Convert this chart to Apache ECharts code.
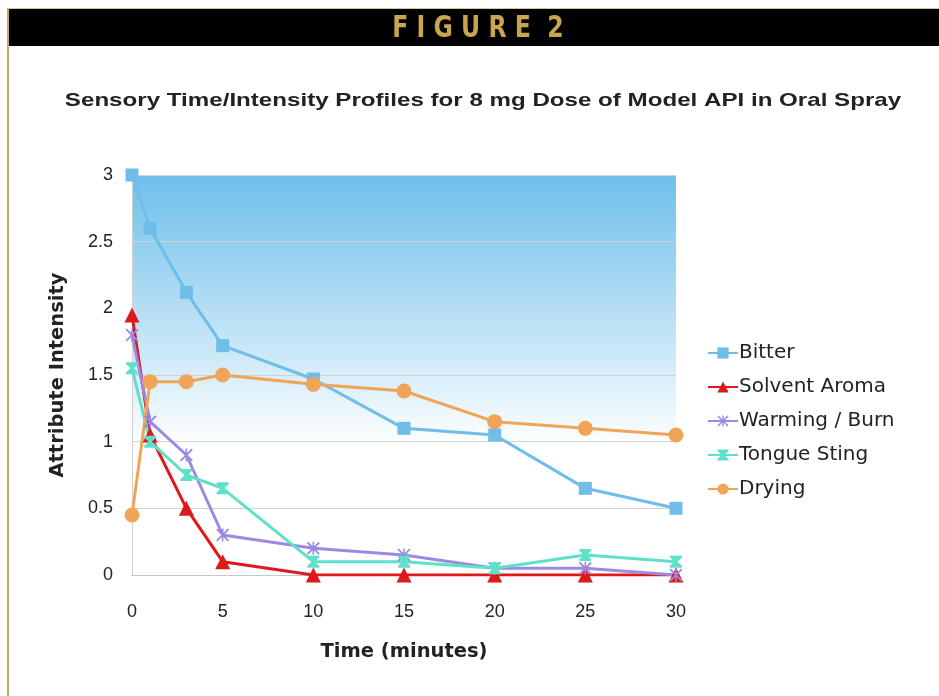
<!DOCTYPE html>
<html>
<head>
<meta charset="utf-8">
<title>Sensory Time/Intensity Profiles</title>
<script src="https://cdn.jsdelivr.net/npm/echarts@6/dist/echarts.min.js"></script>
<style>
  html, body { margin: 0; padding: 0; background: #ffffff; }
  #chart { width: 939px; height: 696px; }
</style>
</head>
<body>
<div id="chart"></div>
<script>
// Sampling times (minutes)
const times = [0, 1, 3, 5, 10, 15, 20, 25, 30];

// Attribute intensity per sensory attribute
const bitter        = [3.0, 2.6, 2.12, 1.72, 1.47, 1.1, 1.05, 0.65, 0.5];
const solventAroma  = [1.95, 1.05, 0.5, 0.1, 0, 0, 0, 0, 0];
const warmingBurn   = [1.8, 1.15, 0.9, 0.3, 0.2, 0.15, 0.05, 0.05, 0];
const tongueSting   = [1.55, 1.0, 0.75, 0.65, 0.1, 0.1, 0.05, 0.15, 0.1];
const drying        = [0.45, 1.45, 1.45, 1.5, 1.43, 1.38, 1.15, 1.1, 1.05];

const seriesNames = ['Bitter', 'Solvent Aroma', 'Warming / Burn', 'Tongue Sting', 'Drying'];

// Axis ticks
const xTicks = { min: 0, max: 30, interval: 5 };
const yTicks = { min: 0, max: 3, interval: 0.5 };

const pair = (xs, ys) => xs.map((x, i) => [x, ys[i]]);

// Marker shapes
const asteriskPath = 'path://M1,0L5,4L9,0L10,1L6,5L10,9L9,10L5,6L1,10L0,9L4,5L0,1Z M4.4,0L5.6,0L5.6,10L4.4,10Z';
const hourglassPath = 'path://M0,0L10,0L10,1.5L6.2,5L10,8.5L10,10L0,10L0,8.5L3.8,5L0,1.5Z';

function lineSeries(name, values, color, symbol, size) {
  return {
    name: name,
    type: 'line',
    data: pair(times, values),
    symbol: symbol,
    symbolSize: size,
    showAllSymbol: true,
    lineStyle: { color: color, width: 3 },
    itemStyle: { color: color, opacity: 1 },
    emphasis: { disabled: true },
    animation: false
  };
}

const chart = echarts.init(document.getElementById('chart'), null, { renderer: 'canvas' });

const tickFont = { fontFamily: 'Liberation Sans, Arial, sans-serif', color: '#222222' };
const wideFont = { fontFamily: 'DejaVu Sans, Verdana, sans-serif', color: '#222222' };

chart.setOption({
  backgroundColor: '#ffffff',
  animation: false,
  graphic: [
    // Header band
    { type: 'rect', shape: { x: 8, y: 8, width: 931, height: 1 }, style: { fill: '#d8c79a' }, silent: true },
    { type: 'rect', shape: { x: 9, y: 9, width: 930, height: 37 }, style: { fill: '#000000' }, silent: true },
    // Left rule
    { type: 'rect', shape: { x: 7, y: 8, width: 2, height: 688 }, style: { fill: '#c9a95e' }, silent: true },
    {
      type: 'text',
      x: 478,
      y: 29,
      scaleX: 0.76,
      style: {
        x: 0,
        y: 0,
        text: 'F I G U R E  2',
        fill: '#c9a54e',
        font: 'bold 31px "DejaVu Sans", sans-serif',
        textAlign: 'center',
        textVerticalAlign: 'middle'
      },
      silent: true
    },
    // Chart title, set in a wide bold sans
    {
      type: 'text',
      x: 483,
      y: 101,
      scaleX: 1.27,
      style: {
        x: 0,
        y: 0,
        text: 'Sensory Time/Intensity Profiles for 8 mg Dose of Model API in Oral Spray',
        fill: '#222222',
        font: 'bold 19px "Liberation Sans", Arial, sans-serif',
        textAlign: 'center',
        textVerticalAlign: 'middle'
      },
      silent: true
    }
  ],
  legend: {
    orient: 'vertical',
    left: 702,
    top: 338,
    itemWidth: 30,
    itemHeight: 14,
    itemGap: 14,
    data: seriesNames,
    textStyle: Object.assign({ fontSize: 20, padding: [0, 0, 0, -4] }, wideFont)
  },
  grid: {
    left: 132,
    right: 263,
    top: 175,
    bottom: 121,
    show: true,
    borderWidth: 0,
    backgroundColor: new echarts.graphic.LinearGradient(0, 0, 0, 1, [
      { offset: 0, color: '#6dc0eb' },
      { offset: 0.4, color: '#c2e4f6' },
      { offset: 0.68, color: '#ffffff' },
      { offset: 1, color: '#ffffff' }
    ])
  },
  xAxis: {
    type: 'value',
    min: xTicks.min,
    max: xTicks.max,
    interval: xTicks.interval,
    name: 'Time (minutes)',
    nameLocation: 'middle',
    nameGap: 67,
    nameTextStyle: Object.assign({ fontSize: 19.5, fontWeight: 'bold' }, wideFont),
    axisLine: { show: true, lineStyle: { color: '#c8c8c8', width: 1 } },
    axisTick: { show: false },
    splitLine: { show: false },
    axisLabel: Object.assign({ fontSize: 18, margin: 28 }, tickFont)
  },
  yAxis: {
    type: 'value',
    min: yTicks.min,
    max: yTicks.max,
    interval: yTicks.interval,
    name: 'Attribute Intensity',
    nameLocation: 'middle',
    nameGap: 64,
    nameRotate: 90,
    nameTextStyle: Object.assign({ fontSize: 19.5, fontWeight: 'bold' }, wideFont),
    axisLine: { show: true, lineStyle: { color: '#d0d0d0', width: 1 } },
    axisTick: { show: false },
    splitLine: { show: true, lineStyle: { color: '#d2d2d2', width: 1 } },
    axisLabel: Object.assign({ fontSize: 18, margin: 19 }, tickFont)
  },
  series: [
    lineSeries('Bitter', bitter, '#6fbde8', 'rect', 13),
    lineSeries('Solvent Aroma', solventAroma, '#dd1a1a', 'triangle', 15),
    lineSeries('Warming / Burn', warmingBurn, '#9b89e2', asteriskPath, 13),
    lineSeries('Tongue Sting', tongueSting, '#5fe0c9', hourglassPath, 12),
    lineSeries('Drying', drying, '#f0a457', 'circle', 15)
  ]
});
</script>
</body>
</html>
